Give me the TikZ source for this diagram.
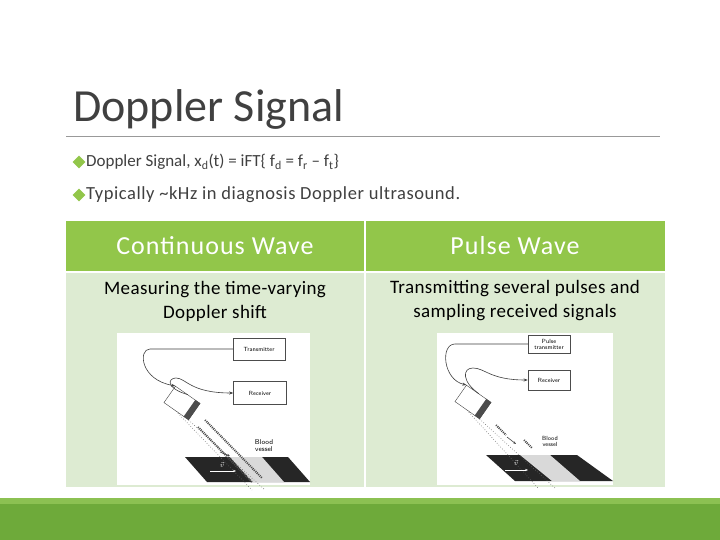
\documentclass[tikz,border=0pt]{standalone}
\usepackage{fontspec}
\setmainfont{Carlito}
\usetikzlibrary{arrows.meta,calc}
\definecolor{hdr}{HTML}{92C64A}
\definecolor{body}{HTML}{DDEBD2}
\definecolor{bar}{HTML}{6EAA3A}
\definecolor{bar2}{HTML}{8CC152}
\definecolor{txt}{HTML}{404040}
\begin{document}
\begin{tikzpicture}[x=1pt,y=-1pt,
  hcell/.style={fill=hdr,draw=none},
  bcell/.style={fill=body,draw=none},
  htext/.style={text=white,font=\fontsize{26}{30}\selectfont\addfontfeature{LetterSpace=4}},
  btext/.style={text=black,font=\fontsize{19}{24}\selectfont\addfontfeature{LetterSpace=2},align=center},
  bul/.style={anchor=west,text=txt,font=\fontsize{17}{20}\selectfont},
  dia/.style={fill=hdr,draw=none,minimum size=9pt,inner sep=0pt,rotate=45},
  box/.style={draw=black!70,fill=white,line width=0.5pt,font=\sffamily\fontsize{6}{6}\selectfont,align=center,inner sep=1pt},
  wire/.style={draw=black!75,line width=0.6pt},
  beam/.style={draw=black!60,dotted,line width=0.6pt}]
\useasboundingbox (0,0) rectangle (720,540);
\fill[white] (0,0) rectangle (720,540);
% title
\node[anchor=base west,text=txt,font=\fontsize{46}{50}\selectfont,inner sep=0] (title) at (73,122) {Doppler Signal};
\draw[black!40,line width=0.8pt] (66,136) -- (660,136);
% bullets
\node[dia] (d1) at (79,162) {};
\node[bul,inner sep=0] (b1) at (86,162) {Doppler Signal, x\textsubscript{d}(t) = iFT\{ f\textsubscript{d} = f\textsubscript{r} – f\textsubscript{t}\}};
\node[dia] (d2) at (79,195) {};
\node[bul,inner sep=0,font=\fontsize{18.5}{20}\selectfont\addfontfeature{LetterSpace=3}] (b2) at (86,195) {Typically \textasciitilde kHz in diagnosis Doppler ultrasound.};
% table
\fill[hcell] (66,221) rectangle (364,271);
\fill[hcell] (366,221) rectangle (665,271);
\fill[bcell] (66,273) rectangle (364,487);
\fill[bcell] (366,273) rectangle (665,487);
\node[htext] (h1) at (215,246) {Continuous Wave};
\node[htext] (h2) at (515,246) {Pulse Wave};
\node[btext] (t1) at (215,301) {Measuring the time-varying\\Doppler shift};
\node[btext] (t2) at (515,301) {Transmitting several pulses and\\sampling received signals};
% left image
\fill[white] (117,333) rectangle (310,485);
\node[box,minimum width=52pt,minimum height=22pt] (tx1) at (259,349) {Transmitter};
\node[box,minimum width=53pt,minimum height=23pt] (rx1) at (260,393) {Receiver};
\node[draw=black!75,fill=white,minimum width=30pt,minimum height=20pt,rotate=-35,inner sep=0] (p1) at (182,403) {};
\fill[black!70] (p1.north east) -- (p1.south east) -- ($(p1.south east)!0.2!(p1.south west)$) -- ($(p1.north east)!0.2!(p1.north west)$) -- cycle;
\draw[wire,-{Stealth[length=4pt]}] (tx1.west) -- (150,349) .. controls (138,349) and (140,380) .. (p1.north west);
\draw[wire,-{Stealth[length=4pt]}] (p1.north) .. controls (165,388) and (168,378) .. (176,378) .. controls (186,378) and (190,393) .. (rx1.west);
\fill[black!85] (185,457) -- (288,457) -- (310,482) -- (207,482) -- cycle;
\fill[white!85!black] (230,457) -- (262,457) -- (284,482) -- (252,482) -- cycle;
\node[font=\sffamily\fontsize{7}{7}\selectfont,align=center,inner sep=0] (bv1) at (264,446) {Blood\\vessel};
\draw[beam] (p1.south east) -- (265,490);
\draw[beam] (p1.south) -- (252,490);
\draw[black!70,line width=2pt,dash pattern=on 1pt off 1pt] (205,420) -- (262,478);
\draw[black!70,line width=2pt,dash pattern=on 1pt off 1pt] (198,427) -- (252,482);
\draw[wire,-{Stealth[length=3pt]}] (220,452) -- (230,456);
\draw[white,line width=0.6pt,-{Stealth[length=3pt]}] (210,471) -- (236,471);
\node[text=white,font=\fontsize{7}{7}\selectfont,inner sep=0] (v1) at (222,465) {$\vec v$};
% right image
\fill[white] (437,333) rectangle (613,485);
\node[box,minimum width=42pt,minimum height=18pt] (tx2) at (549,344) {Pulse\\transmitter};
\node[box,minimum width=42pt,minimum height=20pt] (rx2) at (549,380) {Receiver};
\node[draw=black!75,fill=white,minimum width=30pt,minimum height=20pt,rotate=-35,inner sep=0] (p2) at (473,402) {};
\fill[black!70] (p2.north east) -- (p2.south east) -- ($(p2.south east)!0.2!(p2.south west)$) -- ($(p2.north east)!0.2!(p2.north west)$) -- cycle;
\draw[wire,-{Stealth[length=4pt]}] (tx2.west) -- (455,344) .. controls (440,344) and (443,380) .. (p2.north west);
\draw[wire,-{Stealth[length=4pt]}] (p2.north) .. controls (462,382) and (462,368) .. (473,368) .. controls (485,368) and (490,380) .. (rx2.west);
\fill[black!85] (486,455) -- (577,455) -- (613,481) -- (515,481) -- cycle;
\fill[white!85!black] (520,455) -- (550,455) -- (580,481) -- (552,481) -- cycle;
\node[font=\sffamily\fontsize{6}{6}\selectfont,align=center,inner sep=0] (bv2) at (550,441) {Blood\\vessel};
\draw[beam] (p2.south east) -- (555,488);
\draw[beam] (p2.south) -- (538,488);
\draw[black!70,line width=2pt,dash pattern=on 1pt off 1pt] (496,425) -- (506,435);
\draw[black!70,line width=2pt,dash pattern=on 1pt off 1pt] (524,440) -- (532,448);
\draw[wire,-{Stealth[length=3pt]}] (507,437) -- (516,444);
\draw[white,line width=0.6pt,-{Stealth[length=3pt]}] (505,470) -- (528,470);
\node[text=white,font=\fontsize{7}{7}\selectfont,inner sep=0] (v2) at (516,463) {$\vec v$};
% bottom bar
\fill[bar2] (0,498) rectangle (720,504);
\fill[bar] (0,504) rectangle (720,540);
\end{tikzpicture}
\end{document}
